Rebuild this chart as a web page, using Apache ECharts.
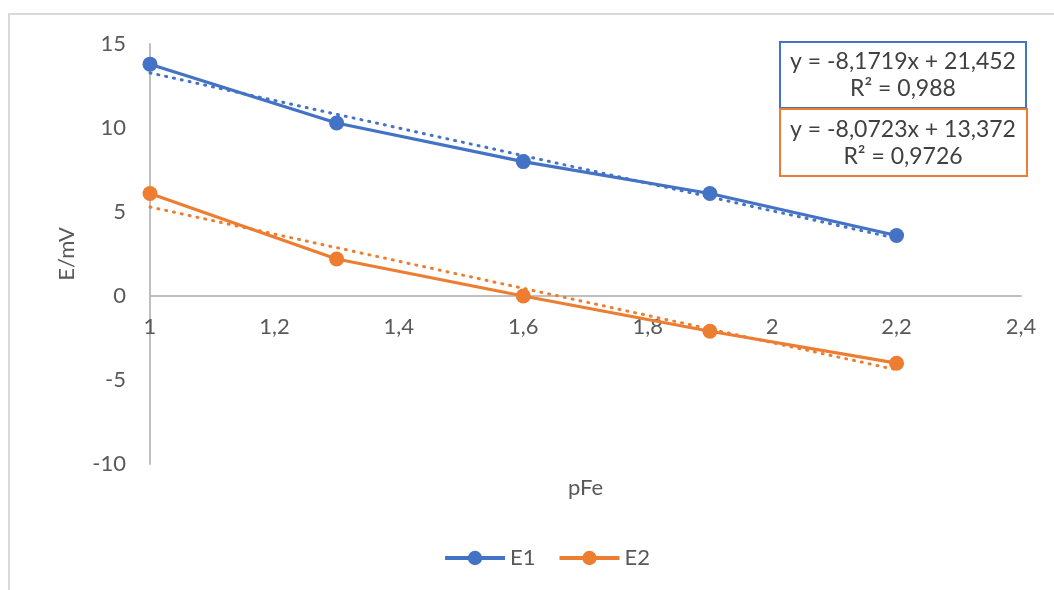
<!DOCTYPE html>
<html>
<head>
<meta charset="utf-8">
<script src="https://cdn.jsdelivr.net/npm/echarts@6/dist/echarts.min.js"></script>
<style>
  html, body { margin: 0; padding: 0; background: #fff; }
  #chart { width: 1054px; height: 590px; }
</style>
</head>
<body>
<div id="chart"></div>
<script>
// ---- data ----
const xValues = [1, 1.3, 1.6, 1.9, 2.2];
const e1Values = [13.8, 10.3, 8.0, 6.1, 3.6];
const e2Values = [6.1, 2.2, 0.0, -2.1, -4.0];
const trendX = [1, 2.2];
const trendE1 = [13.28, 3.43];
const trendE2 = [5.30, -4.39];
const seriesNames = ['E1', 'E2'];
const eqE1 = ['y = -8,1719x + 21,452', 'R² = 0,988'];
const eqE2 = ['y = -8,0723x + 13,372', 'R² = 0,9726'];
const xTitle = 'pFe';
const yTitle = 'E/mV';

const BLUE = '#4472C4';
const ORANGE = '#ED7D31';
const TXT = '#595959';
const AXIS = '#BFBFBF';
const FONT = 'Lato, "Open Sans", sans-serif';

const pairs = (xs, ys) => xs.map((x, i) => [x, ys[i]]);
const comma = v => String(v).replace('.', ',');

const chart = echarts.init(document.getElementById('chart'));
chart.setOption({
  backgroundColor: '#fff',
  animation: false,
  textStyle: { fontFamily: FONT },
  grid: { left: 150, right: 33, top: 44, bottom: 126, containLabel: false, outerBoundsMode: 'none' },
  xAxis: {
    type: 'value', min: 1, max: 2.4, interval: 0.2,
    offset: -168,
    name: xTitle, nameLocation: 'middle', nameGap: 181,
    nameTextStyle: { color: TXT, fontSize: 22, fontFamily: FONT },
    axisLine: { show: true, onZero: false, lineStyle: { color: AXIS, width: 2 } },
    axisTick: { show: false },
    splitLine: { show: false },
    axisLabel: { color: TXT, fontSize: 22, margin: 20, fontFamily: FONT,
      formatter: v => comma(Math.round(v * 10) / 10) }
  },
  yAxis: {
    type: 'value', min: -10, max: 15, interval: 5,
    name: yTitle, nameLocation: 'middle', nameGap: 72, nameRotate: 90,
    nameTextStyle: { color: TXT, fontSize: 22, fontFamily: FONT },
    axisLine: { show: true, onZero: false, lineStyle: { color: AXIS, width: 2 } },
    axisTick: { show: false },
    splitLine: { show: false },
    axisLabel: { color: TXT, fontSize: 22, margin: 24, fontFamily: FONT,
      formatter: v => comma(v) }
  },
  legend: {
    data: seriesNames,
    bottom: 16, left: 438,
    itemWidth: 60, itemHeight: 18, itemGap: 22,
    lineStyle: { width: 4 },
    textStyle: { color: TXT, fontSize: 22, fontFamily: FONT }
  },
  series: [
    { name: seriesNames[0], type: 'line', data: pairs(xValues, e1Values),
      symbol: 'circle', symbolSize: 15, itemStyle: { color: BLUE },
      lineStyle: { color: BLUE, width: 3.2 }, z: 3 },
    { name: seriesNames[1], type: 'line', data: pairs(xValues, e2Values),
      symbol: 'circle', symbolSize: 15, itemStyle: { color: ORANGE },
      lineStyle: { color: ORANGE, width: 3.2 }, z: 3 },
    { name: 'trendE1', type: 'line', data: pairs(trendX, trendE1), symbol: 'none',
      lineStyle: { color: BLUE, width: 3, type: [1, 7], cap: 'round' }, z: 4, silent: true },
    { name: 'trendE2', type: 'line', data: pairs(trendX, trendE2), symbol: 'none',
      lineStyle: { color: ORANGE, width: 3, type: [1, 7], cap: 'round' }, z: 4, silent: true }
  ],
  graphic: [
    { type: 'rect', shape: { x: 9, y: 14, width: 1200, height: 800 },
      style: { fill: 'none', stroke: '#D9D9D9', lineWidth: 2 }, silent: true, z: -1 },
    { type: 'rect', shape: { x: 780, y: 42, width: 246, height: 66 },
      style: { fill: '#fff', stroke: BLUE, lineWidth: 2 }, z: 10 },
    { type: 'text', x: 903, y: 62, z: 11,
      style: { text: eqE1[0], fill: '#404040', font: '23px ' + FONT, align: 'center', verticalAlign: 'middle' } },
    { type: 'text', x: 903, y: 89, z: 11,
      style: { text: eqE1[1], fill: '#404040', font: '23px ' + FONT, align: 'center', verticalAlign: 'middle' } },
    { type: 'rect', shape: { x: 780, y: 109, width: 247, height: 67 },
      style: { fill: '#fff', stroke: ORANGE, lineWidth: 2 }, z: 10 },
    { type: 'text', x: 903, y: 130, z: 11,
      style: { text: eqE2[0], fill: '#404040', font: '23px ' + FONT, align: 'center', verticalAlign: 'middle' } },
    { type: 'text', x: 903, y: 157, z: 11,
      style: { text: eqE2[1], fill: '#404040', font: '23px ' + FONT, align: 'center', verticalAlign: 'middle' } }
  ]
});
</script>
</body>
</html>
